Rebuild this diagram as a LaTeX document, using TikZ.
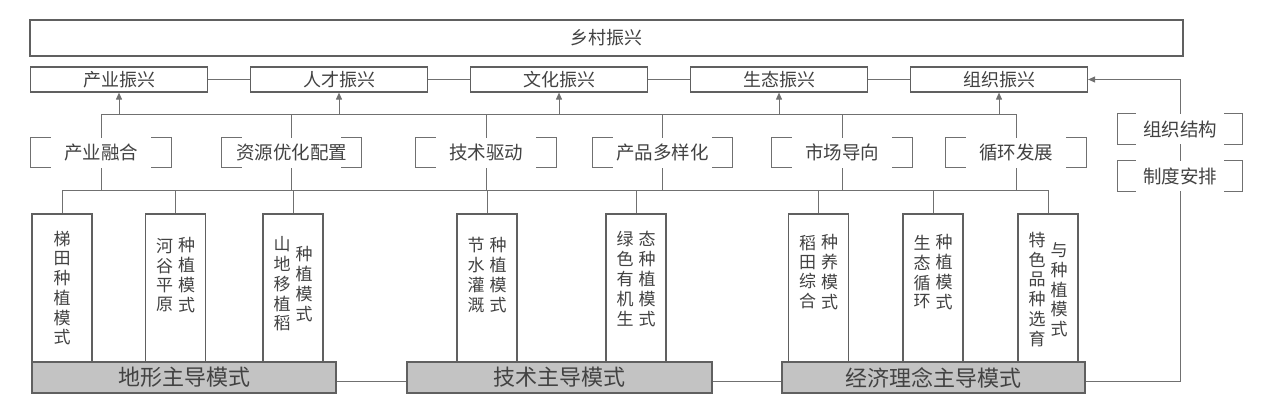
\documentclass[tikz,border=0pt]{standalone}
\usepackage{fontspec}
\newfontfamily\cjk{Noto Sans CJK SC}
\usetikzlibrary{arrows.meta,backgrounds}
\definecolor{lncol}{HTML}{707070}
\definecolor{bdcol}{HTML}{606060}
\definecolor{txcol}{HTML}{424242}
\definecolor{gfcol}{HTML}{C3C3C3}
\newcommand\vcolumn[1]{\begin{tabular}{@{}c@{}}#1\end{tabular}}
\newcommand\twocol[2]{\begin{tabular}{@{}c@{\hspace{5pt}}c@{}}\vcolumn{#1}&\vcolumn{#2}\end{tabular}}
\begin{document}
\begin{tikzpicture}[x=1pt,y=-1pt,
  box/.style={draw=bdcol, line width=1.2pt, fill=white, text=txcol, inner sep=0pt, font=\cjk\fontsize{18}{20}\selectfont},
  brk/.style={fill=white, text=txcol, inner sep=0pt, minimum height=30pt, font=\cjk\fontsize{18.5}{20}\selectfont},
  tallbox/.style={draw=bdcol, line width=1.2pt, fill=white, minimum width=60pt, minimum height=148pt, inner sep=0pt},
  vtext/.style={anchor=north, inner sep=0pt, text=txcol, font=\cjk\fontsize{17}{18.5}\selectfont},
  basebox/.style={draw=bdcol, line width=1.2pt, fill=gfcol, text=txcol, inner sep=0pt, minimum height=31pt, font=\cjk\fontsize{22}{24}\selectfont},
  conn/.style={draw=lncol, line width=1pt},
  arr/.style={conn, -{Triangle[length=7pt,width=6pt]}},
  bracketline/.style={draw=lncol, line width=1.2pt}
]
\useasboundingbox (0,0) rectangle (1267,404);

% top
\node[box, minimum width=1153pt, minimum height=36pt] (top) at (606.5,38) {乡村振兴};

% row 2
\node[box, minimum width=177pt, minimum height=25pt] (r1) at (119,79.5) {产业振兴};
\node[box, minimum width=177pt, minimum height=25pt] (r2) at (339,79.5) {人才振兴};
\node[box, minimum width=177pt, minimum height=25pt] (r3) at (559,79.5) {文化振兴};
\node[box, minimum width=177pt, minimum height=25pt] (r4) at (779,79.5) {生态振兴};
\node[box, minimum width=177pt, minimum height=25pt] (r5) at (999,79.5) {组织振兴};

% bracket nodes
\node[brk, minimum width=140pt] (k1) at (101,152.5) {产业融合};
\node[brk, minimum width=139pt] (k2) at (291.5,152.5) {资源优化配置};
\node[brk, minimum width=140pt] (k3) at (486,152.5) {技术驱动};
\node[brk, minimum width=139pt] (k4) at (662.5,152.5) {产品多样化};
\node[brk, minimum width=140pt] (k5) at (842,152.5) {市场导向};
\node[brk, minimum width=140pt] (k6) at (1016,152.5) {循环发展};
\node[brk, minimum width=124pt] (k7) at (1180,129) {组织结构};
\node[brk, minimum width=124pt] (k8) at (1180,176) {制度安排};

\foreach \n/\t in {k1/20,k2/20,k3/20,k4/20,k5/20,k6/20,k7/18,k8/18}{
  \draw[bracketline] ([xshift=\t pt]\n.north west) -- (\n.north west) -- (\n.south west) -- ([xshift=\t pt]\n.south west);
  \draw[bracketline] ([xshift=-\t pt]\n.north east) -- (\n.north east) -- (\n.south east) -- ([xshift=-\t pt]\n.south east);
}

% tall boxes
\node[tallbox] (v1) at (62,288) {};
\node[tallbox] (v2) at (175.5,288) {};
\node[tallbox] (v3) at (293,288) {};
\node[tallbox] (v4) at (487,288) {};
\node[tallbox] (v5) at (636,288) {};
\node[tallbox] (v6) at (818.5,288) {};
\node[tallbox] (v7) at (933,288) {};
\node[tallbox] (v8) at (1048,288) {};

% base boxes
\node[basebox, minimum width=304pt] (m1) at (184,377.5) {地形主导模式};
\node[basebox, minimum width=305pt] (m2) at (559.5,377.5) {技术主导模式};
\node[basebox, minimum width=303pt] (m3) at (933.5,377.5) {经济理念主导模式};

% vertical texts
\node[vtext] (t1) at ([yshift=-18pt]v1.north) {\vcolumn{梯\\田\\种\\植\\模\\式}};
\node[vtext] (t2) at ([yshift=-24pt]v2.north) {\twocol{河\\谷\\平\\原}{种\\植\\模\\式}};
\node[vtext] (t3) at ([yshift=-23pt]v3.north) {\twocol{山\\地\\移\\植\\稻}{种\\植\\模\\式}};
\node[vtext] (t4) at ([yshift=-24pt]v4.north) {\twocol{节\\水\\灌\\溉}{种\\植\\模\\式}};
\node[vtext] (t5) at ([yshift=-18pt]v5.north) {\twocol{绿\\色\\有\\机\\生}{态\\种\\植\\模\\式}};
\node[vtext] (t6) at ([yshift=-21pt]v6.north) {\twocol{稻\\田\\综\\合}{种\\养\\模\\式}};
\node[vtext] (t7) at ([yshift=-21pt]v7.north) {\twocol{生\\态\\循\\环}{种\\植\\模\\式}};
\node[vtext] (t8) at ([yshift=-19pt]v8.north) {\twocol{特\\色\\品\\种\\选\\育}{与\\种\\植\\模\\式}};

\coordinate (ubus) at (0,114);
\coordinate (lbus) at (0,190);

\begin{pgfonlayer}{background}
  \draw[conn] (r1.east) -- (r2.west);
  \draw[conn] (r2.east) -- (r3.west);
  \draw[conn] (r3.east) -- (r4.west);
  \draw[conn] (r4.east) -- (r5.west);
  \draw[conn] (k1 |- ubus) -- (k6 |- ubus);
  \foreach \k in {k1,k2,k3,k4,k5,k6}{ \draw[conn] (\k |- ubus) -- (\k |- lbus); }
  \foreach \r in {r1,r2,r3,r4,r5}{ \draw[arr] (\r |- ubus) -- (\r.south); }
  \draw[conn] (v1 |- lbus) -- (v8 |- lbus);
  \foreach \v in {v1,v2,v3,v4,v5,v6,v7,v8}{ \draw[conn] (\v |- lbus) -- (\v.north); }
  \draw[conn] ([yshift=-4pt]m1.east) -- ([yshift=-4pt]m2.west);
  \draw[conn] ([yshift=-4pt]m2.east) -- ([yshift=-4pt]m3.west);
  \draw[arr] ([yshift=-4pt]m3.east) -| (k7.center |- r5.east) -- (r5.east);
\end{pgfonlayer}
\end{tikzpicture}
\end{document}
